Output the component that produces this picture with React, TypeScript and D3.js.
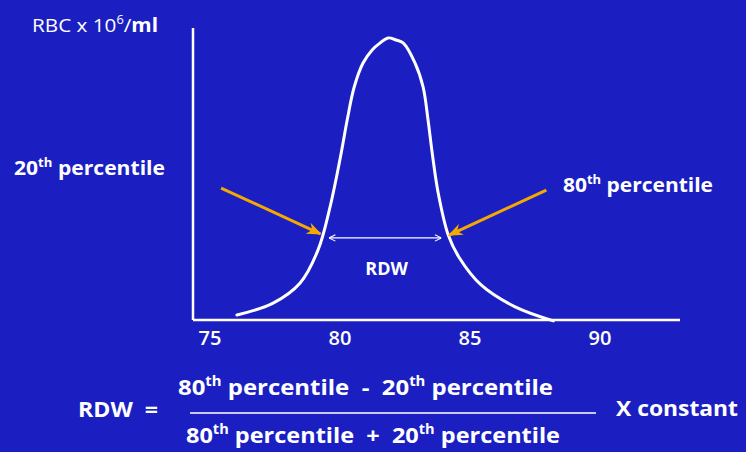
// @ts-nocheck
import { useEffect, useRef } from "react";
import * as d3 from "d3";

// bell curve (MCV in fL vs RBC count, arbitrary 0-100)
const mcv = [76.06, 77.45, 78.49, 79.18, 79.64, 80.07, 80.3, 80.57, 80.91, 81.26, 81.57, 81.87,
  82.18, 82.45, 82.91, 83.22, 83.41, 83.57, 83.8, 84.19, 84.6, 85.45, 86.76, 88.23];
const count = [1.7, 5.8, 12.7, 24.0, 38.7, 57.2, 68.5, 79.8, 88.0, 92.5, 94.9, 96.6,
  95.9, 94.9, 88.0, 79.8, 68.5, 57.2, 43.5, 29.0, 21.5, 12.0, 4.5, -0.3];

const xTicks = [75, 80, 85, 90];
const xExtent = [74.37, 93.1];
const yExtent = [0, 100];

const p20 = 79.37;
const p80 = 84.19;
const rdwLevel = 28.1;
// orange pointer tails and tips (data units)
const pointerFrom = [[75.45, 45.2], [87.96, 44.5]];
const pointerTo = [[79.27, 29.5], [84.22, 29.1]];

const W = 746, H = 452;
const BG = "#1b1fc2";
const ORANGE = "#f5a800";
const FONT = "'Open Sans', 'DejaVu Sans', sans-serif";

function Sup({ children, size }) {
  return <tspan fontSize={size * 0.62} baselineShift="super">{children}</tspan>;
}

export default function App() {
  const gx = useRef(null);

  const x = d3.scaleLinear().domain(xExtent).range([193, 680]);
  const y = d3.scaleLinear().domain(yExtent).range([320, 28]);

  const line = d3.line().x((d) => x(d[0])).y((d) => y(d[1])).curve(d3.curveCatmullRom.alpha(0.5));
  const curve = line(mcv.map((m, i) => [m, count[i]]));

  useEffect(() => {
    const g = d3.select(gx.current);
    g.selectAll("*").remove();
    const ax = d3.axisBottom(x).tickValues(xTicks).tickSize(0).tickPadding(0).tickFormat(d3.format("d"));
    g.call(ax);
    g.select(".domain").remove();
    g.selectAll("text")
      .attr("fill", "white")
      .attr("font-size", 20)
      .attr("font-weight", 600)
      .attr("font-family", FONT)
      .attr("dy", 0)
      .attr("y", 25);
  }, []);

  return (
    <svg width={W} height={H} style={{ position: "absolute", left: 0, top: 0, background: BG }}
      fontFamily={FONT}>
      <defs>
        <marker id="orangeHead" viewBox="0 0 10 10" refX="9" refY="5" markerWidth="5" markerHeight="5"
          orient="auto" markerUnits="strokeWidth">
          <path d="M0,1 L10,5 L0,9 L3,5 Z" fill={ORANGE} />
        </marker>
        <marker id="whiteHead" viewBox="0 0 10 10" refX="10" refY="5" markerWidth="8" markerHeight="8"
          orient="auto-start-reverse" markerUnits="userSpaceOnUse">
          <path d="M2,1 L10,5 L2,9" fill="none" stroke="white" strokeWidth="1.3" />
        </marker>
      </defs>
      <rect width={W} height={H} fill={BG} />

      {/* axes */}
      <line x1={x(xExtent[0])} x2={x(xExtent[0])} y1={y(yExtent[1])} y2={y(0)} stroke="white" strokeWidth={2.5} />
      <line x1={x(xExtent[0])} x2={x(xExtent[1])} y1={y(0)} y2={y(0)} stroke="white" strokeWidth={2.5} />
      <g ref={gx} transform={`translate(0,${y(0)})`} />

      {/* distribution */}
      <path d={curve} fill="none" stroke="white" strokeWidth={3} strokeLinecap="round" />

      {/* RDW span */}
      <line x1={x(p20) + 6} x2={x(p80) - 7} y1={y(rdwLevel)} y2={y(rdwLevel)} stroke="white" strokeWidth={1.3}
        markerStart="url(#whiteHead)" markerEnd="url(#whiteHead)" />
      <text x={(x(p20) + x(p80)) / 2 + 1} y={275} fill="white" fontSize={18} textAnchor="middle" fontWeight="bold">RDW</text>

      {/* percentile pointers */}
      {pointerFrom.map((f, i) => (
        <line key={i} x1={x(f[0])} y1={y(f[1])} x2={x(pointerTo[i][0])} y2={y(pointerTo[i][1])}
          stroke={ORANGE} strokeWidth={3} markerEnd="url(#orangeHead)" />
      ))}

      {/* labels */}
      <text x={32} y={32} fill="white" fontSize={19} textLength={126} lengthAdjust="spacingAndGlyphs">
        RBC x 10<Sup size={19}>6</Sup>/<tspan fontWeight="bold">ml</tspan>
      </text>
      <text x={14} y={175} fill="white" fontSize={20} fontWeight="bold" textLength={151} lengthAdjust="spacingAndGlyphs">
        20<Sup size={20}>th</Sup> percentile
      </text>
      <text x={563} y={192} fill="white" fontSize={20} fontWeight="bold" textLength={150} lengthAdjust="spacingAndGlyphs">
        80<Sup size={20}>th</Sup> percentile
      </text>

      {/* formula */}
      <text x={78} y={417} fill="white" fontSize={22} fontWeight="bold" textLength={80} lengthAdjust="spacingAndGlyphs" xmlSpace="preserve">RDW  =</text>
      <text x={178} y={395} fill="white" fontSize={22} fontWeight="bold" textLength={375} lengthAdjust="spacingAndGlyphs">
        80<Sup size={22}>th</Sup> percentile{"\u00a0 -\u00a0 "}20<Sup size={22}>th</Sup> percentile
      </text>
      <line x1={190} x2={596} y1={413} y2={413} stroke="#c9c9f2" strokeWidth={2} />
      <text x={186} y={443} fill="white" fontSize={22} fontWeight="bold" textLength={374} lengthAdjust="spacingAndGlyphs">
        80<Sup size={22}>th</Sup> percentile{"\u00a0 +\u00a0 "}20<Sup size={22}>th</Sup> percentile
      </text>
      <text x={616} y={416} fill="white" fontSize={22} fontWeight="bold" textLength={122} lengthAdjust="spacingAndGlyphs">X constant</text>
    </svg>
  );
}
